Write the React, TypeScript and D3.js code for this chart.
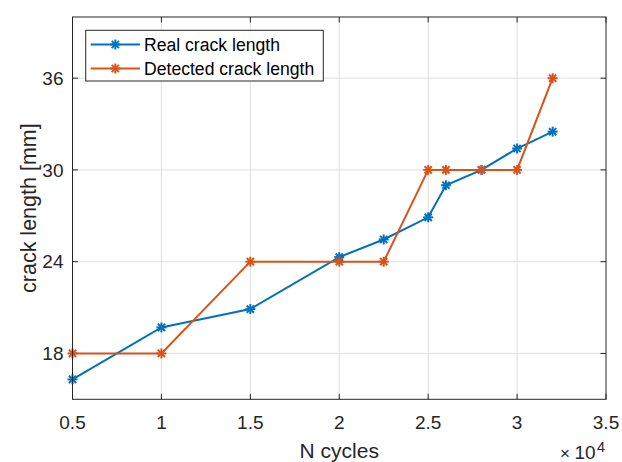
import React from "react";
import * as d3 from "d3";

// Cycle counts at which crack length was measured
const cycles = [5000, 10000, 15000, 20000, 22500, 25000, 26000, 28000, 30000, 32000];
// Measured (real) crack length, mm
const realLength = [16.3, 19.7, 20.9, 24.3, 25.45, 26.9, 29.0, 30.0, 31.4, 32.5];
// Crack length reported by the detector, mm
const detectedLength = [18, 18, 24, 24, 24, 30, 30, 30, 30, 36];

const xTicks = [5000, 10000, 15000, 20000, 25000, 30000, 35000];
const xTickLabels = ["0.5", "1", "1.5", "2", "2.5", "3", "3.5"];
const yTicks = [18, 24, 30, 36];

const seriesNames = ["Real crack length", "Detected crack length"];
const seriesColors = ["#0072BD", "#D95319"];

const W = 622;
const H = 462;
const M = { left: 72.5, right: 606, top: 17, bottom: 399.3 };
const FONT = "'Liberation Sans', Arial, Helvetica, sans-serif";
const AX = "#262626";
const GRID = "#dfdfdf";

function Asterisk({ x, y, color, r = 5 }: { x: number; y: number; color: string; r?: number }) {
  const d = r * 0.72;
  return (
    <g stroke={color} strokeWidth={2} strokeLinecap="butt">
      <line x1={x - r} y1={y} x2={x + r} y2={y} />
      <line x1={x} y1={y - r} x2={x} y2={y + r} />
      <line x1={x - d} y1={y - d} x2={x + d} y2={y + d} />
      <line x1={x - d} y1={y + d} x2={x + d} y2={y - d} />
    </g>
  );
}

export default function App() {
  const x = d3.scaleLinear().domain([5000, 35000]).range([M.left, M.right]);
  const y = d3.scaleLinear().domain([15, 40]).range([M.bottom, M.top]);

  const line = d3
    .line<[number, number]>()
    .x((d) => x(d[0]))
    .y((d) => y(d[1]));

  const series = [realLength, detectedLength].map((vals) =>
    cycles.map((c, i) => [c, vals[i]] as [number, number])
  );

  const tick = 5.5;
  const legendX = 85.7;
  const legendY = 30.3;
  const legendW = 237.6;
  const legendH = 50.7;
  const rowY = [44.5, 68.5];

  return (
    <svg
      width={W}
      height={H}
      style={{ position: "absolute", left: 0, top: 0, background: "#fff" }}
      fontFamily={FONT}
    >
      <rect x={0} y={0} width={W} height={H} fill="#fff" />

      {/* grid */}
      <g stroke={GRID} strokeWidth={1}>
        {xTicks.slice(1, -1).map((t) => (
          <line key={"gx" + t} x1={x(t)} x2={x(t)} y1={M.top} y2={M.bottom} />
        ))}
        {yTicks.map((t) => (
          <line key={"gy" + t} x1={M.left} x2={M.right} y1={y(t)} y2={y(t)} />
        ))}
      </g>

      {/* tick marks on all four sides */}
      <g stroke={AX} strokeWidth={1}>
        {xTicks.map((t) => (
          <g key={"tx" + t}>
            <line x1={x(t)} x2={x(t)} y1={M.bottom} y2={M.bottom - tick} />
            <line x1={x(t)} x2={x(t)} y1={M.top} y2={M.top + tick} />
          </g>
        ))}
        {yTicks.map((t) => (
          <g key={"ty" + t}>
            <line x1={M.left} x2={M.left + tick} y1={y(t)} y2={y(t)} />
            <line x1={M.right} x2={M.right - tick} y1={y(t)} y2={y(t)} />
          </g>
        ))}
      </g>

      {/* data */}
      {series.map((pts, si) => (
        <g key={"s" + si}>
          <path d={line(pts) || ""} fill="none" stroke={seriesColors[si]} strokeWidth={2} />
          {pts.map((p, i) => (
            <Asterisk key={i} x={x(p[0])} y={y(p[1])} color={seriesColors[si]} />
          ))}
        </g>
      ))}

      {/* axes box */}
      <rect
        x={M.left}
        y={M.top}
        width={M.right - M.left}
        height={M.bottom - M.top}
        fill="none"
        stroke={AX}
        strokeWidth={1}
      />

      {/* tick labels */}
      <g fill={AX} fontSize={19}>
        {xTicks.map((t, i) => (
          <text key={"lx" + t} x={x(t)} y={429.3} textAnchor="middle">
            {xTickLabels[i]}
          </text>
        ))}
        {yTicks.map((t) => (
          <text key={"ly" + t} x={63.5} y={y(t) + 6.8} textAnchor="end">
            {t}
          </text>
        ))}
      </g>

      {/* exponent */}
      <g fill={AX}>
        <text x={560} y={458.5} fontSize={17}>
          ×
        </text>
        <text x={574.5} y={458.5} fontSize={19}>
          10
        </text>
        <text x={597} y={452} fontSize={14.5}>
          4
        </text>
      </g>

      {/* axis labels */}
      <text x={(M.left + M.right) / 2} y={458} textAnchor="middle" fontSize={21} fill={AX}>
        N cycles
      </text>
      <text
        transform={`translate(35.5, ${(M.top + M.bottom) / 2}) rotate(-90)`}
        textAnchor="middle"
        fontSize={21.5}
        fill={AX}
      >
        crack length [mm]
      </text>

      {/* legend */}
      <g>
        <rect x={legendX} y={legendY} width={legendW} height={legendH} fill="#fff" stroke={AX} strokeWidth={1} />
        {seriesNames.map((name, i) => (
          <g key={"lg" + i}>
            <line x1={90.7} x2={140} y1={rowY[i]} y2={rowY[i]} stroke={seriesColors[i]} strokeWidth={2} />
            <Asterisk x={115.3} y={rowY[i]} color={seriesColors[i]} />
            <text x={144} y={rowY[i] + 6.2} fontSize={17.6} fill="#000">
              {name}
            </text>
          </g>
        ))}
      </g>
    </svg>
  );
}
